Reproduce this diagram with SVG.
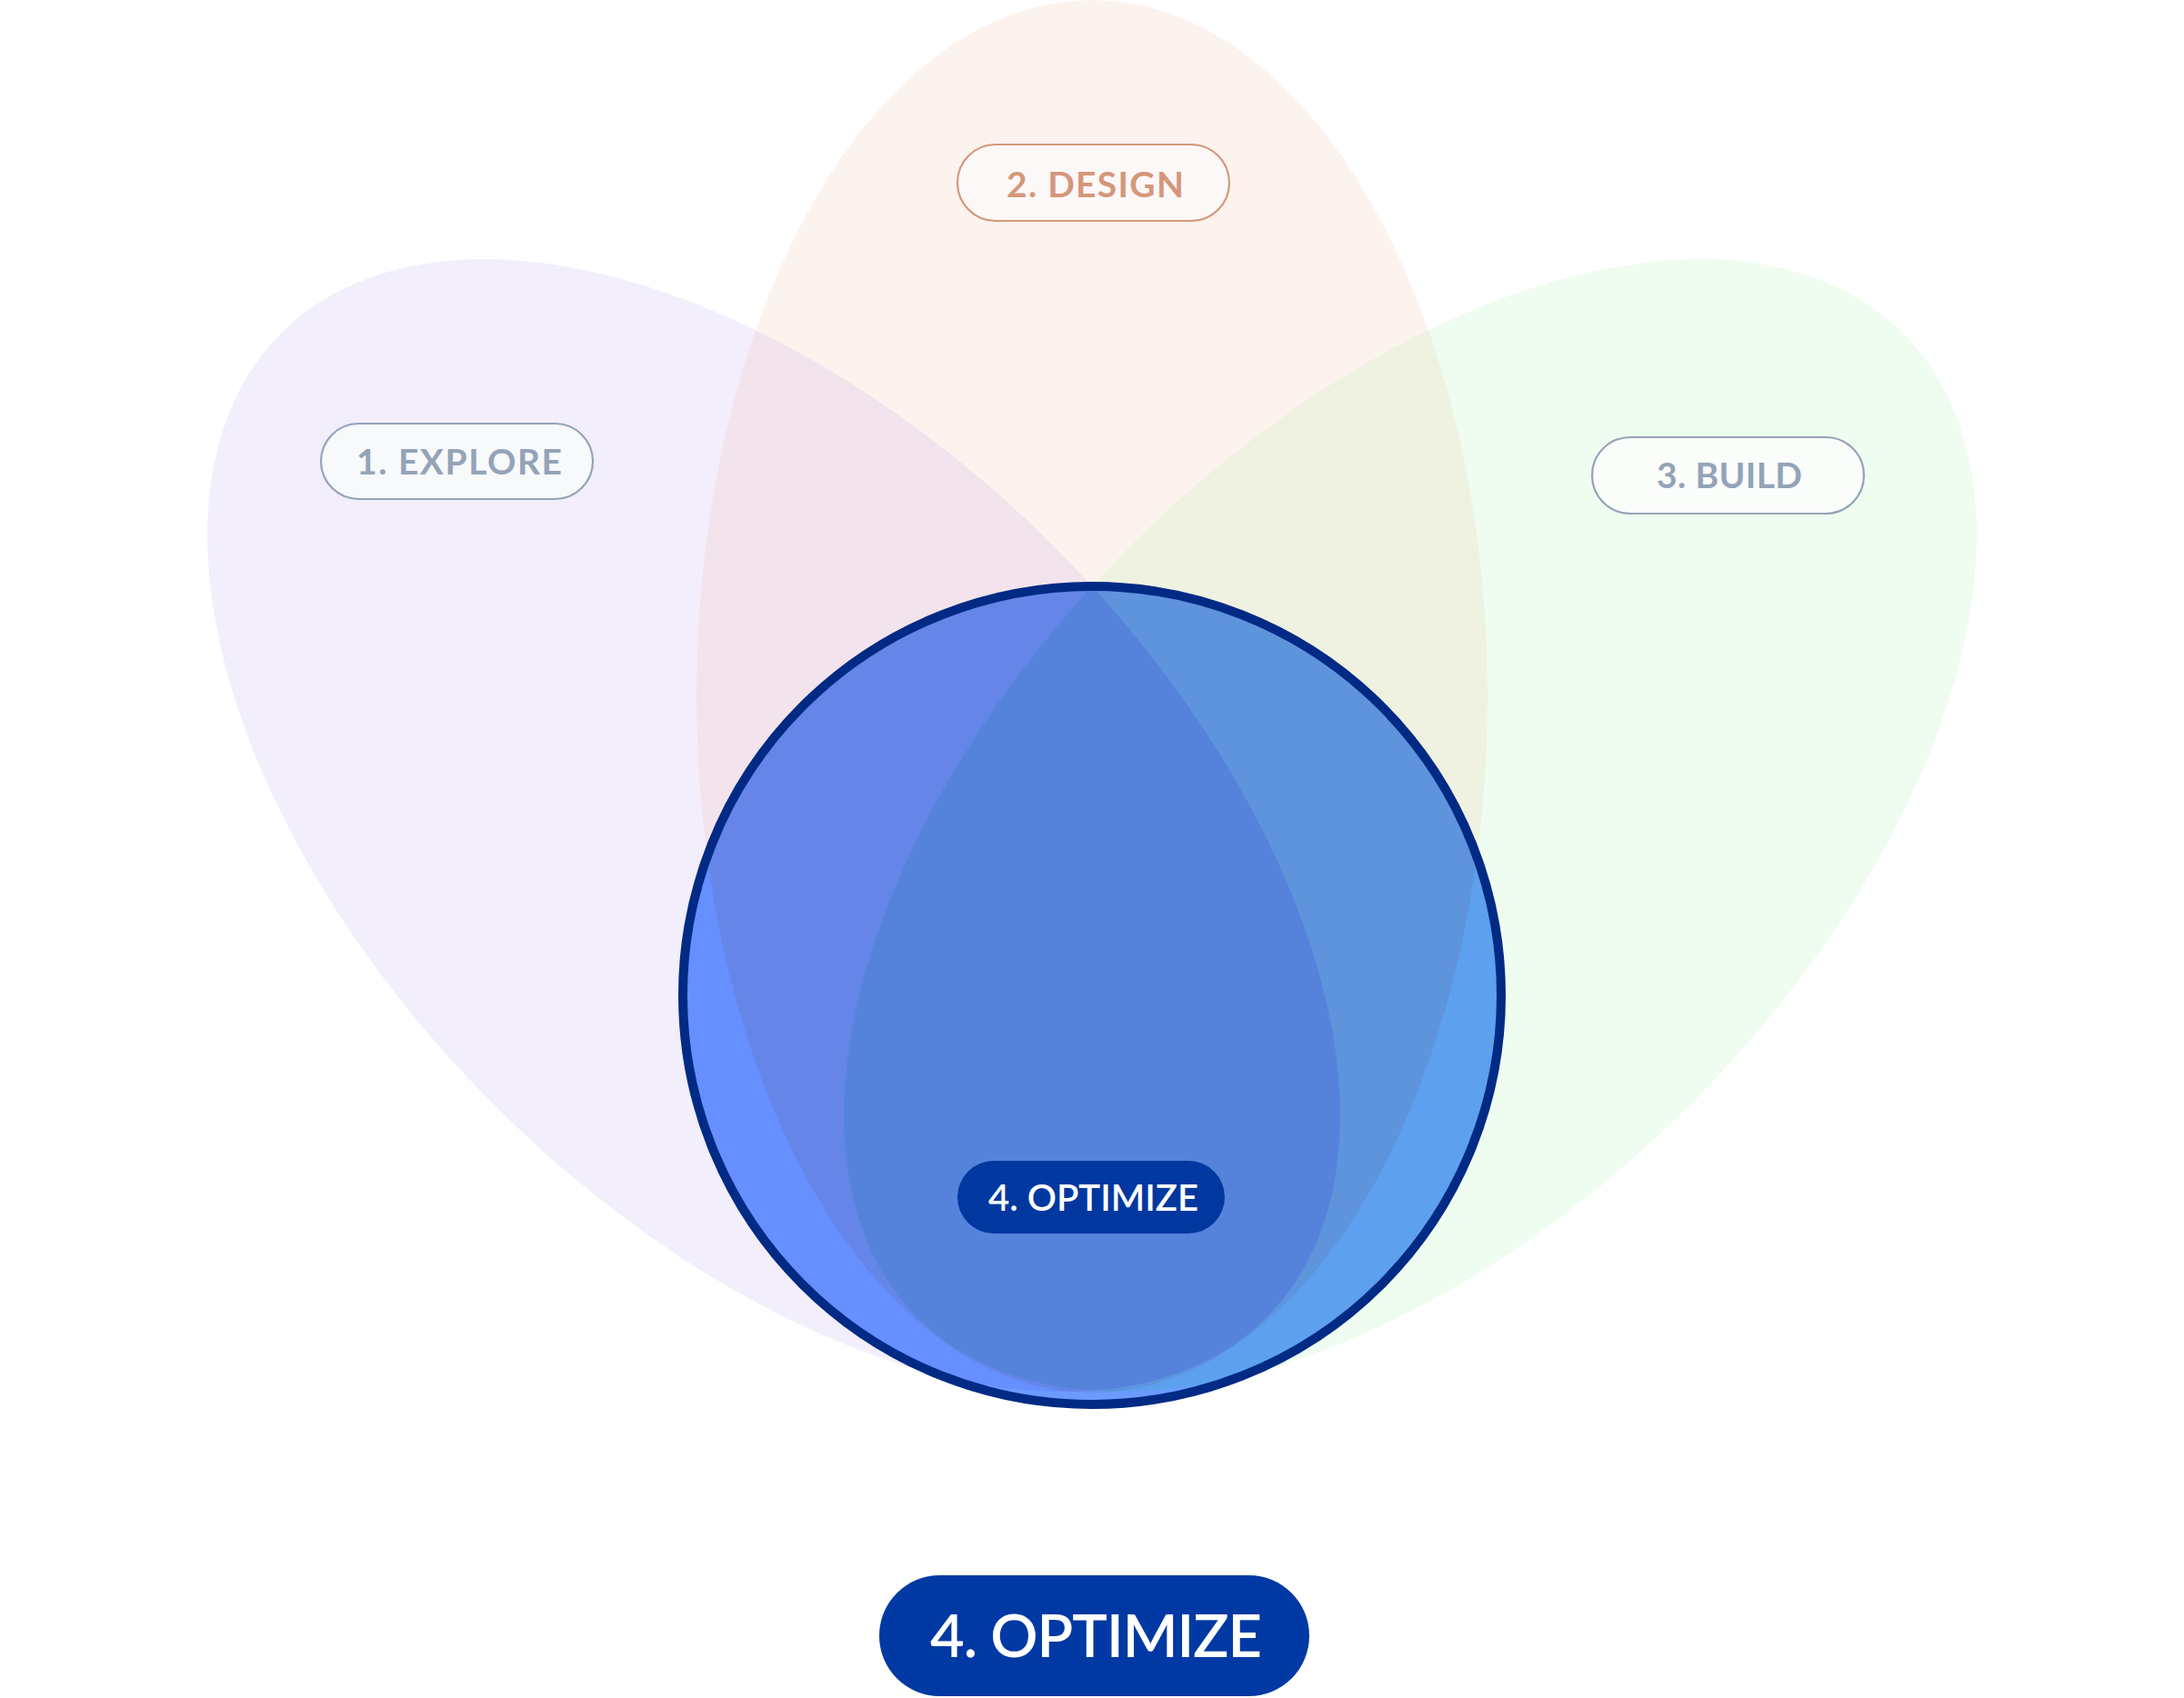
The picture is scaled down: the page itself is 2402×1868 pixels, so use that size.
<svg xmlns="http://www.w3.org/2000/svg" xmlns:xlink="http://www.w3.org/1999/xlink" width="2402" height="1868" viewBox="0 0 2402 1868">
  <style>
    .lbl { font-family: Lato, "Noto Sans", "Liberation Sans", sans-serif; font-weight: 700; }
    .gray { fill: #94a3b8; }
    .pill-gray { stroke: #94a3b8; stroke-width: 2.2; }
    .opt { fill: #ffffff; font-weight: 600; }
  </style>
  <defs>
    <ellipse id="eLav" cx="851" cy="908" rx="435" ry="766" transform="rotate(-45 851 908)"/>
    <ellipse id="ePeach" cx="1201" cy="766" rx="435" ry="766"/>
    <ellipse id="eGreen" cx="1551" cy="908" rx="435" ry="766" transform="rotate(45 1551 908)"/>
    <clipPath id="clipLav"><use xlink:href="#eLav"/></clipPath>
    <clipPath id="clipPeach"><use xlink:href="#ePeach"/></clipPath>
    <clipPath id="clipGreen"><use xlink:href="#eGreen"/></clipPath>
    <clipPath id="clipCircle"><circle cx="1201" cy="1095" r="450"/></clipPath>
  </defs>
  <rect width="2402" height="1868" fill="#ffffff"/>

  <g id="petals">
    <g id="petal-explore"><use xlink:href="#eLav" fill="#f2eefc"/></g>
    <g id="petal-design"><use xlink:href="#ePeach" fill="#fdf3ee"/></g>
    <g id="petal-build"><use xlink:href="#eGreen" fill="#effcf0"/></g>
    <g id="overlap-explore-design" clip-path="url(#clipLav)"><use xlink:href="#ePeach" fill="#f3e3ed"/></g>
    <g id="overlap-design-build" clip-path="url(#clipGreen)"><use xlink:href="#ePeach" fill="#eff1e1"/></g>
  </g>

  <g id="optimize-circle">
    <circle cx="1201" cy="1095" r="450" fill="#6b9bff"/>
    <g clip-path="url(#clipCircle)">
      <use xlink:href="#ePeach" fill="#6a8ee8"/>
      <use xlink:href="#eLav" fill="#668fff"/>
      <use xlink:href="#eGreen" fill="#5da0ee"/>
      <g clip-path="url(#clipPeach)">
        <use xlink:href="#eLav" fill="#6585e8"/>
        <use xlink:href="#eGreen" fill="#5e94dc"/>
      </g>
      <g clip-path="url(#clipGreen)">
        <use xlink:href="#eLav" fill="#5d8ee6"/>
        <g clip-path="url(#clipPeach)">
          <use xlink:href="#eLav" fill="#5583dc"/>
        </g>
      </g>
    </g>
    <circle cx="1201" cy="1095" r="450" fill="none" stroke="#012a84" stroke-width="10"/>
  </g>

  <g id="label-explore">
    <rect x="353" y="466" width="299" height="83" rx="41.5" fill="#f8f9fa" class="pill-gray"/>
    <text x="392" y="521.5" font-size="39" textLength="226" lengthAdjust="spacing" class="lbl gray">1. EXPLORE</text>
  </g>
  <g id="label-design">
    <rect x="1053" y="159" width="299" height="84" rx="42" fill="#fcf8f8" stroke="#d4977a" stroke-width="2.2"/>
    <text x="1107" y="217" font-size="39" textLength="195" lengthAdjust="spacing" class="lbl" fill="#d4977a">2. DESIGN</text>
  </g>
  <g id="label-build">
    <rect x="1751" y="481" width="299" height="84" rx="42" fill="#fafdfa" class="pill-gray"/>
    <text x="1822" y="537" font-size="39" textLength="160" lengthAdjust="spacing" class="lbl gray">3. BUILD</text>
  </g>
  <g id="label-optimize-inner">
    <rect x="1053" y="1277" width="294" height="80" rx="40" fill="#0038a0"/>
    <text x="1087" y="1332" font-size="40" textLength="231" lengthAdjust="spacing" class="lbl opt">4. OPTIMIZE</text>
  </g>
  <g id="label-optimize-bottom">
    <rect x="967" y="1733" width="473" height="133" rx="66.5" fill="#0039a3"/>
    <text x="1023" y="1823" font-size="65" textLength="365" lengthAdjust="spacing" class="lbl opt">4. OPTIMIZE</text>
  </g>
</svg>
